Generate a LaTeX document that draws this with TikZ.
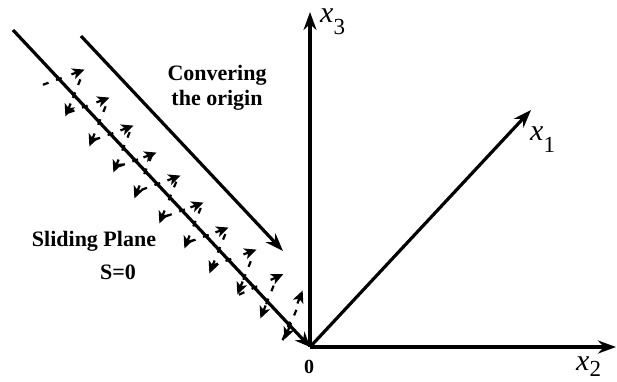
\documentclass[tikz,border=0pt]{standalone}
\usepackage{fontspec}
\setmainfont{Liberation Serif}
\usetikzlibrary{arrows.meta,calc}
\begin{document}
\begin{tikzpicture}[x=1pt,y=-1pt,
  axis/.style={line width=3.2pt, -{Stealth[length=18pt,width=13pt]}},
  plane/.style={line width=3.2pt},
  traj/.style={line width=2.2pt},
  trajarrow/.style={traj, -{Stealth[length=12pt,width=11pt,inset=3pt]}},
  lab/.style={font=\fontsize{22}{25}\selectfont\bfseries, align=center, inner sep=0pt},
  axlab/.style={font=\fontsize{30}{32}\selectfont, inner sep=0pt}
]
\useasboundingbox (0,0) rectangle (617,381);
\clip (0,0) rectangle (617,381);
\coordinate (O) at (310,347);
\coordinate (X3) at (310,12);
\coordinate (X2) at (616,347);
\coordinate (X1) at (531,110);
\coordinate (S0) at (13,30);
\coordinate (C0) at (81,36);
\coordinate (C1) at (283,251);

\draw[axis] (O) -- (X3);
\draw[axis] (O) -- (X2);
\draw[axis] (O) -- (X1);
\draw[plane, -{Stealth[length=15pt,width=13pt]}] (S0) -- (O);
\draw[plane, -{Stealth[length=18pt,width=13pt]}] (C0) -- (C1);

\pgfmathsetmacro\myslope{317/297}
\foreach \hx/\hy/\ang in {78/72/20, 103/100/20, 127/128/20, 150/155/20, 174/178/20, 197/205/20, 222/230/20, 250/252/20, 277/277/25, 300/297/68,
  68/110/-112, 92/140/-112, 116/166/-112, 137/192/-112, 162/217/-112, 187/242/-112, 212/267/-112, 240/288/-112, 263/312/-112, 287/333/-112} {
  \pgfmathsetmacro\myc{cos(\ang)}
  \pgfmathsetmacro\mys{sin(\ang)}
  \pgfmathsetmacro\myly{30+\myslope*(\hx-13)}
  \pgfmathsetmacro\mytc{(\myly-\hy)/(\mys+\myslope*\myc)}
  \coordinate (hA) at ({\hx-7*\myc},{\hy+7*\mys});
  \coordinate (hB) at ({\hx+7*\myc},{\hy-7*\mys});
  \coordinate (tA) at ({\hx-(\mytc-3)*\myc},{\hy+(\mytc-3)*\mys});
  \coordinate (tB) at ({\hx-(\mytc+3)*\myc},{\hy+(\mytc+3)*\mys});
  \coordinate (lA) at ({\hx-(\mytc+11)*\myc},{\hy+(\mytc+11)*\mys});
  \coordinate (lB) at ({\hx-(\mytc+17)*\myc},{\hy+(\mytc+17)*\mys});
  \draw[trajarrow] (hA) -- (hB);
  \draw[traj] (tA) -- (tB);
  \draw[traj] (lA) -- (lB);
}

\node[lab] (conv) at (217,88) {Convering\\the origin};
\node[lab, anchor=base] (slide) at (94,246) {Sliding Plane};
\node[lab, anchor=base] (seq) at (118,279) {S=0};
\node[lab, anchor=base, font=\fontsize{20}{22}\selectfont\bfseries] (zero) at (309,373) {0};
\node[axlab, anchor=base west] (l3) at (320,22) {\textit{x}\raisebox{-12pt}{\fontsize{23}{23}\selectfont 3}};
\node[axlab, anchor=base west] (l1) at (530,140) {\textit{x}\raisebox{-12pt}{\fontsize{23}{23}\selectfont 1}};
\node[axlab, anchor=base west] (l2) at (576,370) {\textit{x}\raisebox{-6pt}{\fontsize{23}{23}\selectfont 2}};
\end{tikzpicture}
\end{document}
